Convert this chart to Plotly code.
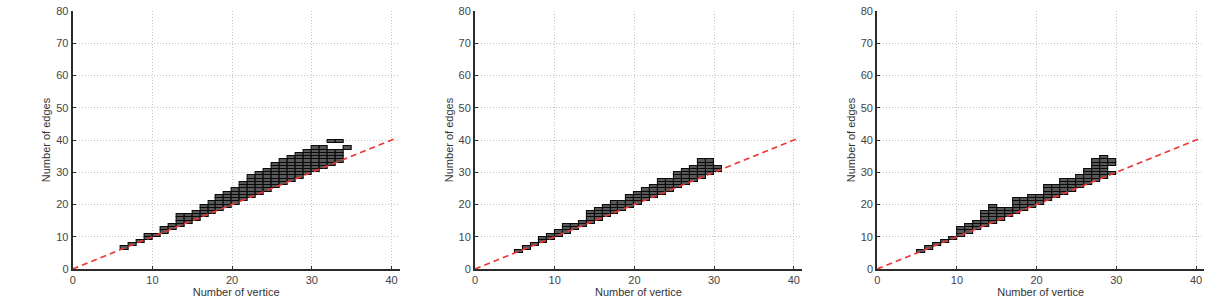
import plotly.graph_objects as go

# ---- data: (vertex count, lowest edge count, highest edge count) segments ----
p1_vertices = [6, 7, 8, 9, 10, 11, 12, 13, 14, 15, 16, 17, 18, 19, 20, 21, 22, 23, 24, 25, 26, 27, 28, 29, 30, 31, 32, 32, 33, 33, 34]
p1_edge_lo  = [6, 7, 8, 9, 10, 11, 12, 13, 14, 15, 16, 17, 18, 19, 20, 21, 22, 23, 24, 25, 26, 27, 28, 29, 30, 31, 32, 39, 33, 39, 37]
p1_edge_hi  = [6, 7, 8, 10, 10, 12, 13, 16, 16, 17, 19, 20, 22, 23, 24, 26, 28, 29, 30, 32, 33, 34, 35, 36, 37, 37, 36, 39, 36, 39, 37]

p2_vertices = [5, 6, 7, 8, 9, 10, 11, 12, 13, 14, 15, 16, 17, 18, 19, 20, 21, 22, 23, 24, 25, 26, 27, 28, 29, 30]
p2_edge_lo  = [5, 6, 7, 8, 9, 10, 11, 12, 13, 14, 15, 16, 17, 18, 19, 20, 21, 22, 23, 24, 25, 26, 27, 28, 29, 30]
p2_edge_hi  = [5, 6, 7, 9, 10, 11, 13, 13, 14, 17, 18, 19, 20, 20, 22, 23, 24, 25, 27, 27, 29, 30, 31, 33, 33, 31]

p3_vertices = [5, 6, 7, 8, 9, 10, 11, 12, 13, 14, 15, 16, 17, 18, 19, 20, 21, 22, 23, 24, 25, 26, 27, 28, 29, 29]
p3_edge_lo  = [5, 6, 7, 8, 9, 10, 11, 12, 13, 14, 15, 16, 17, 18, 19, 20, 21, 22, 23, 24, 25, 26, 27, 28, 29, 32]
p3_edge_hi  = [5, 6, 7, 8, 9, 12, 13, 14, 17, 19, 18, 18, 21, 21, 22, 22, 25, 25, 27, 27, 28, 30, 33, 34, 29, 33]

ref_x = [0, 40.6]          # reference line y = x
x_ticks = [0, 10, 20, 30, 40]
y_ticks = [0, 10, 20, 30, 40, 50, 60, 70, 80]
x_title = "Number of vertice"
y_title = "Number of edges"

panels = [
    (p1_vertices, p1_edge_lo, p1_edge_hi),
    (p2_vertices, p2_edge_lo, p2_edge_hi),
    (p3_vertices, p3_edge_lo, p3_edge_hi),
]

W, H = 1224, 303
x_domains = [(72.7 / W, 399.5 / W), (475.0 / W, 801.8 / W), (877.2 / W, 1204.0 / W)]

fig = go.Figure()
font_family = "Liberation Sans, Arial, sans-serif"

for i, (vs, lo, hi) in enumerate(panels):
    suffix = "" if i == 0 else str(i + 1)
    # reference line first, so the cells are drawn over it
    fig.add_trace(go.Scatter(
        x=ref_x, y=ref_x, mode="lines",
        line=dict(color="rgb(238,55,55)", width=1.8, dash="6px,4px"),
        xaxis="x" + suffix, yaxis="y" + suffix, showlegend=False,
        hoverinfo="skip",
    ))

for i, (vs, lo, hi) in enumerate(panels):
    suffix = "" if i == 0 else str(i + 1)
    cx, cb = [], []
    for v, a, b in zip(vs, lo, hi):
        for e in range(a, b + 1):
            cx.append(v)
            cb.append(e)
    fig.add_trace(go.Bar(
        x=cx, y=[1] * len(cx), base=cb, width=1, offset=0,
        marker=dict(color="rgb(88,88,88)",
                    line=dict(color="rgb(10,10,10)", width=1.1)),
        xaxis="x" + suffix, yaxis="y" + suffix, showlegend=False,
        hoverinfo="skip",
    ))

for i in range(3):
    suffix = "" if i == 0 else str(i + 1)
    axis_common = dict(
        showline=True, linecolor="#2b2b2b", linewidth=2,
        ticks="inside", ticklen=3, tickcolor="#2b2b2b", tickwidth=1,
        showgrid=True, gridcolor="#c4c4c4", griddash="1px,2px", gridwidth=1,
        zeroline=False, mirror=False, automargin=False,
        tickfont=dict(family=font_family, size=11, color="#444"),
    )
    fig.layout["xaxis" + suffix] = dict(
        axis_common, domain=list(x_domains[i]), range=[0, 41],
        tickvals=x_ticks, anchor="y" + suffix,
        title=dict(text=x_title, standoff=2,
                   font=dict(family=font_family, size=11, color="#333")),
    )
    fig.layout["yaxis" + suffix] = dict(
        axis_common, domain=[0, 1], range=[0, 80],
        tickvals=y_ticks, anchor="x" + suffix,
        title=dict(text=y_title, standoff=3,
                   font=dict(family=font_family, size=11, color="#333")),
    )

fig.update_layout(
    width=W, height=H,
    margin=dict(l=0, r=0, t=11, b=34),
    paper_bgcolor="white", plot_bgcolor="white",
    barmode="overlay", bargap=0,
)

fig.write_html("out.html")
